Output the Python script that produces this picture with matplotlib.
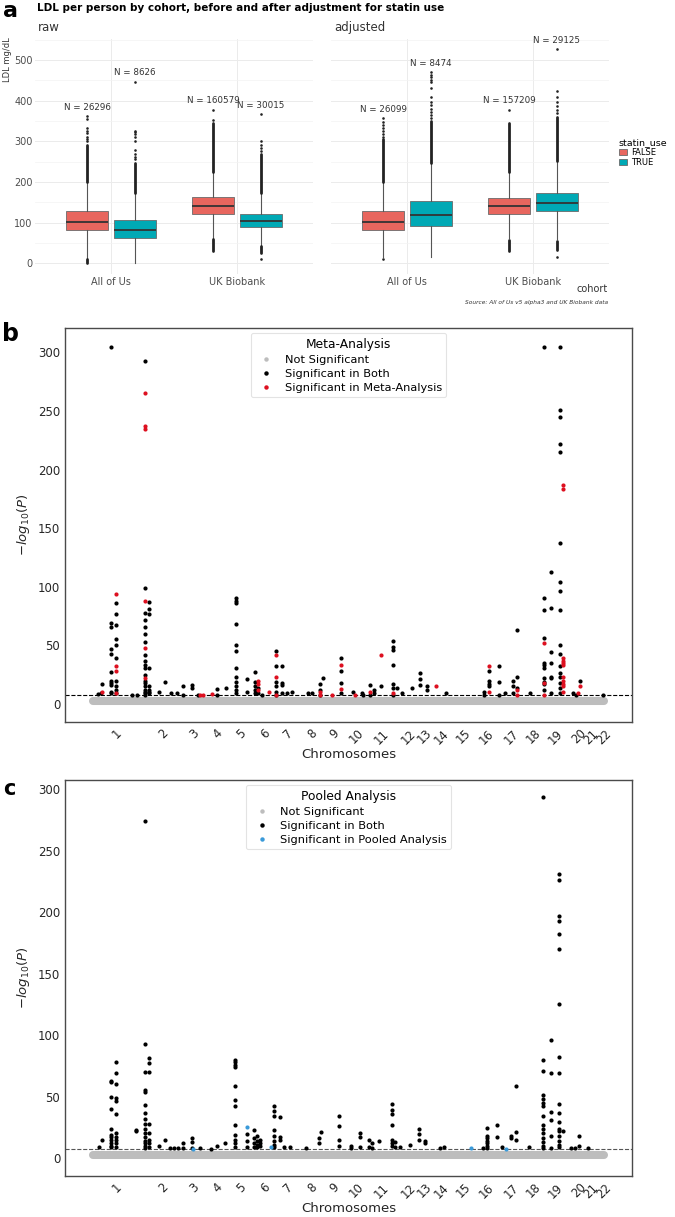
import matplotlib
matplotlib.use("Agg")
import matplotlib.pyplot as plt
from matplotlib.patches import Patch
from matplotlib.lines import Line2D

plt.rcParams["font.family"] = ["DejaVu Sans"]

# ---------------- panel a data ----------------
cohorts = ["All of Us", "UK Biobank"]
statin_groups = ["FALSE", "TRUE"]
statin_colors = ["#E8665E", "#00A9B5"]

# (whislo, q1, median, q3, whishi) per cohort, per statin group
raw_stats = [[(14, 82, 103, 128, 198), (0, 63, 82, 107, 172)],
             [(62, 121, 141, 163, 224), (42, 90, 105, 122, 170)]]
adj_stats = [[(16, 81, 103, 128, 198), (15, 91, 118, 153, 246)],
             [(62, 121, 141, 162, 224), (60, 128, 149, 173, 250)]]
raw_n = [[26296, 8626], [160579, 30015]]
adj_n = [[26099, 8474], [157209, 29125]]

# outliers: dense runs (lo, hi) and single points
raw_dense = [[[(0, 12), (200, 292)], [(174, 248)]],
             [[(30, 60), (226, 345)], [(25, 42), (172, 270)]]]
raw_single = [[[300, 306, 312, 320, 326, 333, 356, 362],
               [256, 262, 270, 278, 300, 312, 318, 322, 326, 447]],
              [[352, 378], [12, 276, 284, 292, 300, 367]]]
adj_dense = [[[(200, 305)], [(248, 350)]],
             [[(30, 58), (226, 345)], [(32, 55), (252, 360)]]]
adj_single = [[[10, 312, 318, 325, 333, 340, 348, 357],
               [358, 365, 372, 380, 390, 398, 408, 432, 446, 452, 458, 464, 470]],
              [[378], [15, 370, 378, 388, 398, 408, 425, 527]]]

# ---------------- panel b / c data ----------------
chrom_labels = [str(i) for i in range(1, 23)]
chrom_pos = [117, 163, 194, 218, 241, 265, 288, 312, 334, 356, 382,
             409, 424, 442, 463, 487, 512, 533, 556, 579, 591, 604]
nonsig_span = (93, 604)
nonsig_level = 2.2
gw_threshold = 7.3

meta_both_cols = [
    (98, [8.5]), (101, [9]), (102, [17]),
    (111, [305, 69, 66, 47, 43, 27, 20, 18, 16, 10, 9]),
    (116, [86, 77, 67, 55, 50, 39, 20, 15, 12, 9]),
    (132, [8]), (137, [8]),
    (145, [293, 99, 78, 72, 66, 60, 53, 42, 37, 33, 31, 25, 20, 18, 15, 12, 10, 9, 8]),
    (149, [87, 81, 77, 31, 15, 12, 10, 9]),
    (159, [10]), (165, [19]), (171, [9]), (177, [9]), (183, [15, 8]), (192, [16, 14]),
    (198, [8]), (217, [13, 8]), (226, [14]),
    (236, [90, 88, 86, 68, 50, 45, 31, 23, 19, 15, 12, 9]),
    (247, [21, 10]), (255, [27, 19, 15, 12, 9]), (258, [14, 9]), (262, [8]),
    (276, [45, 32, 19, 15, 10, 8]), (282, [32, 18, 16, 9]), (287, [9]), (292, [10]),
    (308, [9]), (312, [9]), (320, [17, 12, 8]), (323, [22]),
    (341, [39, 28, 18, 9]), (353, [10]), (362, [9]), (363, [8]),
    (370, [16, 8]), (374, [12, 9]), (381, [15]),
    (393, [54, 49, 46, 33, 17, 14, 8]), (397, [14]), (402, [9]), (412, [14]),
    (420, [26, 21, 16]), (427, [15, 12]), (446, [9]),
    (484, [10, 8]), (489, [28, 20, 17, 15]), (499, [32, 19, 8]), (505, [9]),
    (513, [20, 15, 9]), (517, [63, 23, 14]), (530, [9]),
    (544, [305, 90, 80, 56, 35, 33, 31, 22, 19, 17, 12]),
    (551, [113, 82, 44, 35, 23, 22, 9]),
    (560, [305, 251, 245, 222, 215, 137, 104, 96, 80, 50, 43, 32, 26, 23, 18, 14, 9]),
    (573, [9]), (576, [8]), (580, [20]), (603, [8]),
]
meta_only_cols = [
    (102, [10]), (116, [94, 32, 28, 9]), (145, [265, 237, 235, 88, 48, 22]),
    (200, [8]), (203, [8]), (212, [8.5]), (258, [20, 17, 12]), (269, [10]),
    (276, [42, 23, 8]), (320, [10, 8]), (332, [8]), (341, [33, 13]), (355, [8]),
    (370, [10]), (381, [42]), (393, [9]), (436, [15]), (489, [32, 10]),
    (517, [12, 8]), (544, [52, 18, 8]),
    (563, [187, 183, 39, 37, 35, 33, 23, 20, 17, 15, 10]), (578, [9]), (580, [15]),
]

pooled_both_cols = [
    (99, [8.8]), (102, [14.6]),
    (111, [63, 62, 50, 40, 24, 19, 17, 15, 12, 10, 9]),
    (116, [78, 69, 60, 49, 46, 36, 20, 17, 15, 12, 9]),
    (136, [23, 22]),
    (145, [274, 93, 70, 55, 54, 43, 37, 32, 28, 24, 20, 17, 14, 12, 10, 8]),
    (149, [81, 77, 70, 28, 20, 15, 12, 9]),
    (159, [10]), (165, [15]), (170, [8]), (174, [8]), (178, [8]),
    (183, [12, 8]), (192, [16, 13, 8]), (200, [8]), (211, [7.5]), (217, [10]), (225, [12]),
    (235, [80, 78, 76, 74, 59, 47, 42, 27, 19, 15, 12, 9]),
    (247, [19.5, 14, 9]), (254, [22.5, 16, 12, 9]), (257, [18, 14, 11, 9]), (260, [15, 12, 10]),
    (274, [42, 38, 34, 23, 18, 14, 11, 9]), (280, [33, 17, 15]), (284, [9]), (290, [9]),
    (306, [8]), (319, [16, 12.5]), (321, [21]), (339, [34, 26, 15, 10]),
    (351, [10, 8]), (360, [20, 17, 9]), (369, [15, 9]), (372, [12, 8]), (379, [14]),
    (392, [44, 39, 36, 27, 15, 12, 10]), (395, [13, 9]), (400, [9]), (410, [11]),
    (419, [24, 19.5, 14.6]), (425, [14, 12]), (440, [8]), (444, [9]),
    (483, [8]), (487, [24.5, 18, 16, 14, 12, 10, 8]), (497, [27, 17.5]), (502, [9]),
    (511, [18, 16]), (516, [58.5, 21.5, 14.6]), (529, [9]),
    (543, [294, 80, 71, 51, 48, 45, 42, 34, 27, 24, 20, 16, 13, 10, 8]),
    (551, [96, 69, 37.5, 31, 18, 8]),
    (559, [231, 226, 197, 193, 182, 170, 125, 82, 69, 44, 37, 29, 24, 22, 18, 14, 11, 9]),
    (563, [22]), (571, [8]), (575, [8]), (579, [18, 10]), (588, [8]),
]
pooled_only_cols = [(193, [7.5]), (247, [25.5]), (271, [9]), (471, [8]), (506, [7.5])]

GRAY = "#BDBDBD"
RED = "#DD1020"
BLUE = "#3A9AD9"

W, H = 675, 1217


def fig_rect(left, top, right, bottom):
    return [left / W, 1 - bottom / H, (right - left) / W, (bottom - top) / H]


def flatten(cols):
    xs, ys = [], []
    for x, vals in cols:
        for v in vals:
            xs.append(x)
            ys.append(v)
    return xs, ys


def draw_box_panel(ax, stats, dense, single, ns, strip, show_y):
    for ci in range(len(cohorts)):
        for gi in range(len(statin_groups)):
            pos = ci + 1 + (gi - 0.5) * 0.38
            lo, q1, med, q3, hi = stats[ci][gi]
            st = dict(whislo=lo, q1=q1, med=med, q3=q3, whishi=hi, fliers=[])
            ax.bxp([st], positions=[pos], widths=0.34, patch_artist=True,
                   showfliers=False, showcaps=False,
                   boxprops=dict(facecolor=statin_colors[gi], edgecolor="#6a6a6a", lw=0.6),
                   medianprops=dict(color="#333333", lw=1.3),
                   whiskerprops=dict(color="#555555", lw=0.8))
            top = hi
            for a, b in dense[ci][gi]:
                ax.vlines(pos, a, b, color="#222222", lw=2.0, capstyle="round", zorder=3)
                top = max(top, b)
            pts = single[ci][gi]
            ax.scatter([pos] * len(pts), pts, s=3.5, color="#222222", lw=0, zorder=3)
            if pts:
                top = max(top, max(pts))
            ax.text(pos, top + 22, f"N = {ns[ci][gi]}", ha="center", va="center",
                    fontsize=6.3, color="#333333")
    ax.set_xlim(0.4, 2.6)
    ax.set_ylim(-26, 553)
    ax.set_xticks([1, 2])
    ax.set_xticklabels(cohorts)
    ax.set_yticks([0, 100, 200, 300, 400, 500])
    ax.set_yticks([50, 150, 250, 350, 450, 550], minor=True)
    ax.grid(which="major", color="#EBEBEB", lw=0.7)
    ax.grid(which="minor", axis="y", color="#F3F3F3", lw=0.5)
    ax.set_axisbelow(True)
    for s in ax.spines.values():
        s.set_visible(False)
    ax.tick_params(which="both", length=0, labelsize=7, colors="#4D4D4D", pad=2)
    if not show_y:
        ax.set_yticklabels([])
    ax.text(0.01, 1.02, strip, transform=ax.transAxes, ha="left", va="bottom",
            fontsize=8.5, color="#333333")


def draw_manhattan(ax, both_cols, only_cols, only_color, legend_title, only_label, ylim, dash_color):
    ax.plot(nonsig_span, [nonsig_level, nonsig_level], color=GRAY, lw=5.8,
            solid_capstyle="round", zorder=1)
    bx, by = flatten(both_cols)
    ox, oy = flatten(only_cols)
    ax.scatter(bx, by, s=9, color="black", lw=0, zorder=3)
    ax.scatter(ox, oy, s=9, color=only_color, lw=0, zorder=4)
    ax.axhline(gw_threshold, color=dash_color, ls="--", lw=0.8, zorder=2)
    ax.set_xlim(65, 632)
    ax.set_ylim(*ylim)
    ax.set_yticks([0, 50, 100, 150, 200, 250, 300])
    ax.set_xticks(chrom_pos)
    ax.set_xticklabels(chrom_labels, rotation=45)
    ax.tick_params(length=0, labelsize=8.5, colors="#262626")
    for s in ax.spines.values():
        s.set_color("#4a4a4a")
        s.set_linewidth(1.0)
    ax.set_xlabel("Chromosomes", fontsize=9.5, color="#262626", labelpad=1)
    ax.set_ylabel(r"$-log_{10}(P)$", fontsize=9.5, color="#262626")
    handles = [
        Line2D([], [], ls="", marker="o", ms=3.2, mfc=GRAY, mec="none", label="Not Significant"),
        Line2D([], [], ls="", marker="o", ms=3.2, mfc="black", mec="none", label="Significant in Both"),
        Line2D([], [], ls="", marker="o", ms=3.2, mfc=only_color, mec="none", label=only_label),
    ]
    leg = ax.legend(handles=handles, title=legend_title, loc="upper center",
                    fontsize=8.2, title_fontsize=8.8, frameon=True, handletextpad=0.6,
                    labelspacing=0.35, borderpad=0.4, borderaxespad=0.45)
    leg.get_frame().set_edgecolor("#DDDDDD")
    leg.get_frame().set_linewidth(0.8)


fig = plt.figure(figsize=(W / 100, H / 100), dpi=100)

# ---------------- panel a ----------------
ax_raw = fig.add_axes(fig_rect(35.4, 38.5, 312.6, 274))
ax_adj = fig.add_axes(fig_rect(331.4, 38.5, 608.6, 274))
draw_box_panel(ax_raw, raw_stats, raw_dense, raw_single, raw_n, "raw", True)
draw_box_panel(ax_adj, adj_stats, adj_dense, adj_single, adj_n, "adjusted", False)

fig.text(3 / W, 1 - 11 / H, "a", fontsize=16, fontweight="bold", va="center")
fig.text(37 / W, 1 - 8 / H, "LDL per person by cohort, before and after adjustment for statin use",
         fontsize=7.5, fontweight="bold", va="center")
fig.text(8 / W, 1 - 60 / H, "LDL mg/dL", rotation=90, fontsize=6, color="#333333",
         ha="center", va="center")
fig.text(608 / W, 1 - 289 / H, "cohort", fontsize=7, color="#333333", ha="right", va="center")
fig.text(608 / W, 1 - 302 / H, "Source: All of Us v5 alpha3 and UK Biobank data",
         fontsize=4.2, style="italic", color="#333333", ha="right", va="center")

leg_handles = [Patch(facecolor=c, edgecolor="#6a6a6a", lw=0.6, label=g)
               for g, c in zip(statin_groups, statin_colors)]
fig.legend(handles=leg_handles, title="statin_use", loc="upper left",
           bbox_to_anchor=(617 / W, 1 - 136 / H), frameon=False, fontsize=6,
           title_fontsize=6.8, handlelength=1.0, handleheight=0.75, labelspacing=0.15,
           handletextpad=0.5, alignment="left", borderpad=0.1, borderaxespad=0.1)

# ---------------- panel b ----------------
ax_b = fig.add_axes(fig_rect(65, 328, 632, 722))
draw_manhattan(ax_b, meta_both_cols, meta_only_cols, RED, "Meta-Analysis",
               "Significant in Meta-Analysis", (-15.4, 320.8), "black")
fig.text(2 / W, 1 - 334 / H, "b", fontsize=17, fontweight="bold", va="center")

# ---------------- panel c ----------------
ax_c = fig.add_axes(fig_rect(65, 780, 632, 1176))
draw_manhattan(ax_c, pooled_both_cols, pooled_only_cols, BLUE, "Pooled Analysis",
               "Significant in Pooled Analysis", (-14.6, 307.5), "#555555")
fig.text(3 / W, 1 - 789 / H, "c", fontsize=15, fontweight="bold", va="center")

fig.savefig("out.png", dpi=100)
